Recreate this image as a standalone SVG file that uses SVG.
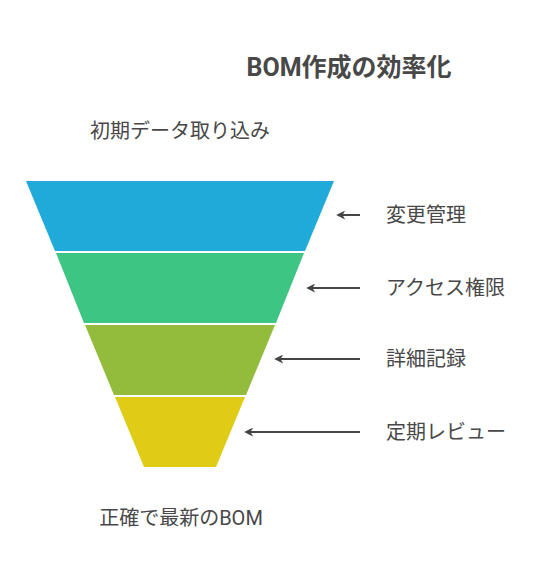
<svg xmlns="http://www.w3.org/2000/svg" width="541" height="576" viewBox="0 0 541 576">
<defs>
<style>
.t{font-family:"Roboto","Noto Sans CJK JP",sans-serif;fill:#484848;font-size:20px}
.title{font-family:"Roboto","Noto Sans CJK JP",sans-serif;fill:#484848;font-size:25px;font-weight:bold}
.c{stroke:#444;stroke-width:2;fill:none;marker-end:url(#ah)}
</style>
<marker id="ah" viewBox="0 0 10 10" refX="8" refY="5" markerWidth="4.5" markerHeight="4.5" orient="auto"><path d="M0,0 L10,5 L0,10 L3,5 Z" fill="#444"/></marker>
</defs>
<rect width="541" height="576" fill="#fff"/>
<text class="title" x="349" y="76" text-anchor="middle">BOM作成の効率化</text>
<text class="t" x="180" y="138" text-anchor="middle">初期データ取り込み</text>
<text class="t" x="181" y="525" text-anchor="middle">正確で最新のBOM</text>
<g id="band1"><polygon points="26,181 334,181 305,251 55,251" fill="#1FAAD9"/></g>
<g id="band2"><polygon points="56,253 304,253 276,323 84,323" fill="#3CC583"/></g>
<g id="band3"><polygon points="85,325 275,325 246,395 114,395" fill="#93BC3C"/></g>
<g id="band4"><polygon points="115,397 245,397 216,467 144,467" fill="#E0CB15"/></g>
<g id="connectors">
<line class="c" x1="360" y1="215" x2="338" y2="215"/>
<line class="c" x1="360" y1="288" x2="308" y2="288"/>
<line class="c" x1="360" y1="359" x2="276" y2="359"/>
<line class="c" x1="360" y1="432" x2="246" y2="432"/>
</g>
<g id="l1"><text class="t" x="386" y="222">変更管理</text></g>
<g id="l2"><text class="t" x="386" y="295">アクセス権限</text></g>
<g id="l3"><text class="t" x="386" y="366">詳細記録</text></g>
<g id="l4"><text class="t" x="386" y="439">定期レビュー</text></g>
</svg>
